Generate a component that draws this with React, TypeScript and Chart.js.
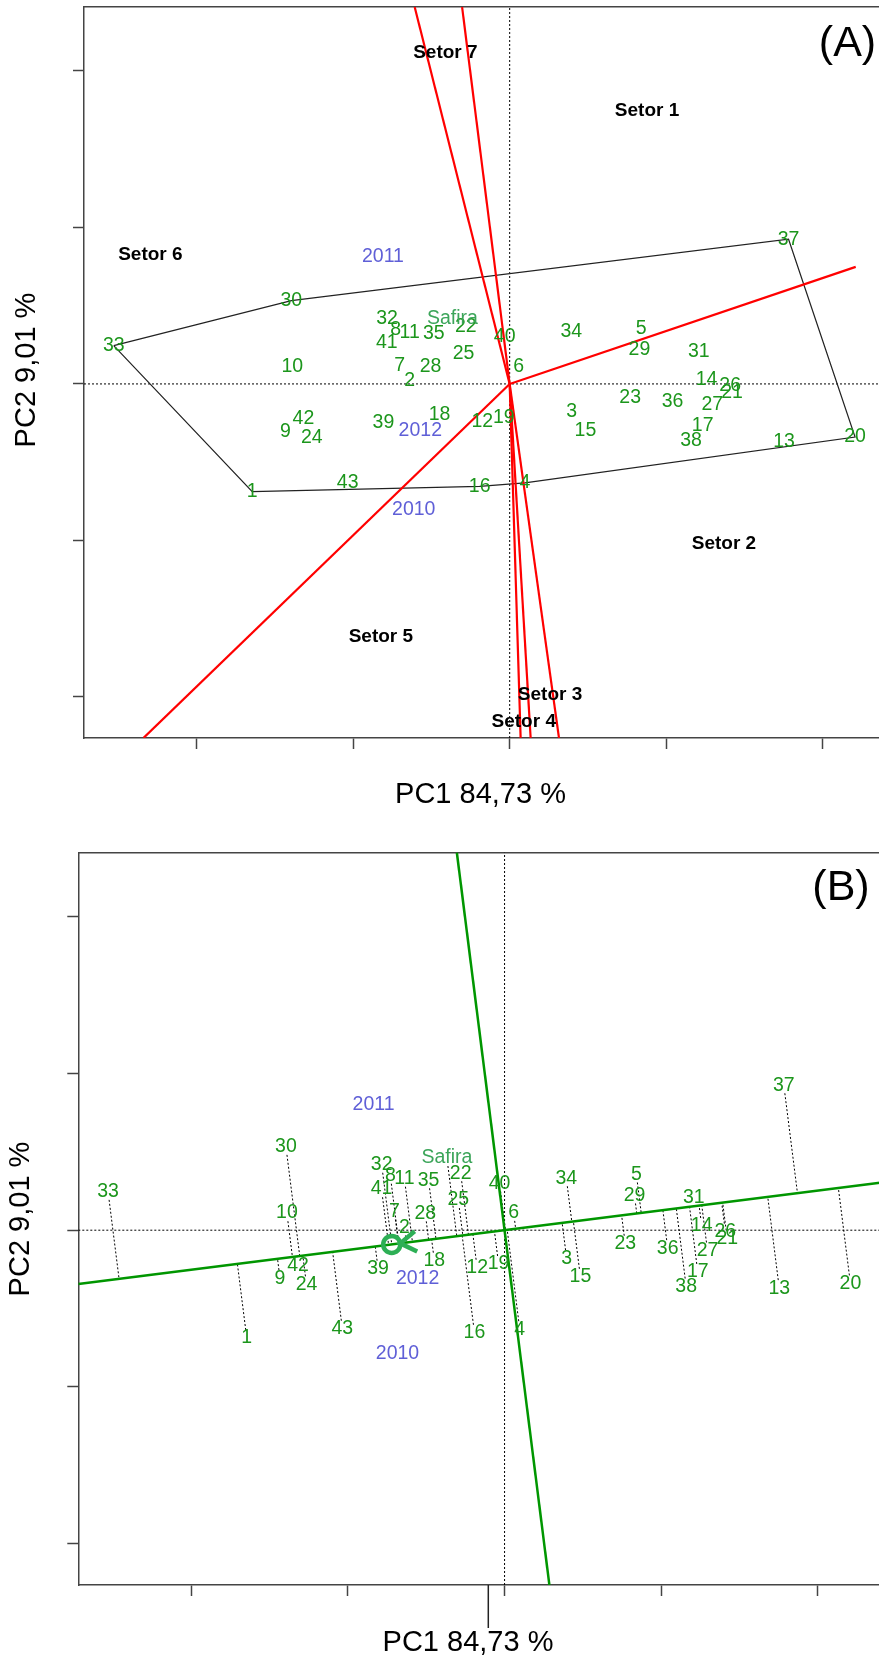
import React, { useEffect, useRef } from 'react';
import { Chart, registerables } from 'chart.js';

Chart.register(...registerables);

// ---------- data ----------
const genotypes = ['1','2','3','4','5','6','7','8','9','10','11','12','13','14','15','16','17','18','19','20','21','22','23','24','25','26','27','28','29','30','31','32','33','34','35','36','37','38','39','40','41','42','43'];
const pc1 = [-1.645,-0.639,0.396,0.097,0.841,0.058,-0.703,-0.729,-1.433,-1.389,-0.639,-0.175,1.753,1.258,0.484,-0.192,1.233,-0.448,-0.038,2.207,1.421,-0.280,0.770,-1.264,-0.295,1.409,1.295,-0.506,0.829,-1.395,1.208,-0.784,-2.530,0.394,-0.485,1.041,1.782,1.159,-0.807,-0.032,-0.785,-1.318,-1.035];
const pc2 = [-0.688,0.018,-0.179,-0.632,0.356,0.111,0.119,0.348,-0.306,0.109,0.329,-0.240,-0.370,0.026,-0.298,-0.655,-0.267,-0.195,-0.216,-0.340,-0.054,0.364,-0.087,-0.346,0.193,-0.010,-0.130,0.108,0.222,0.532,0.207,0.418,0.245,0.332,0.319,-0.115,0.925,-0.360,-0.246,0.300,0.262,-0.224,-0.629];

const checkName = 'Safira';
const checkA = [-0.366, 0.420];
const checkB = [-0.368, 0.461];

const environments = ['2010', '2011', '2012'];
const envPc1A = [-0.613, -0.810, -0.571];
const envPc2A = [-0.805, 0.813, -0.298];
const envPc1B = [-0.683, -0.836, -0.555];
const envPc2B = [-0.787, 0.804, -0.308];

const hullOrder = ['33', '30', '37', '20', '4', '16', '1'];
const rayEndX = [-0.607, -0.304, 2.211, -2.339, 0.070, 0.134, 0.315];
const rayEndY = [2.409, 2.409, 0.748, -2.262, -2.262, -2.262, -2.262];

const sectorNames = ['Setor 1', 'Setor 2', 'Setor 3', 'Setor 4', 'Setor 5', 'Setor 6', 'Setor 7'];
const sectorX = [0.878, 1.369, 0.258, 0.090, -0.823, -2.296, -0.411];
const sectorY = [1.744, -1.024, -1.987, -2.162, -1.619, 0.824, 2.117];

const aec = [-0.72, -0.091];

const tickValues = [-2, -1, 0, 1, 2];
const X_MIN = -2.72, X_MAX = 2.42, Y_MIN = -2.263, Y_MAX = 2.409;

const xTitle = 'PC1 84,73 %';
const yTitle = 'PC2 9,01 %';

// ---------- styles ----------
const FONT = '"Liberation Sans", Arial, sans-serif';
const GREEN_TXT = 'rgb(28,150,28)';
const CHECK_TXT = 'rgb(60,165,90)';
const BLUE_TXT = 'rgb(95,95,215)';
const AXIS_COL = '#444';

type Item = { text: string; x: number; y: number; color: string; font: string; data: boolean; rotate?: boolean };

function lineDs(pts: { x: number; y: number }[], color: string, width: number, dash: number[], order: number) {
  return {
    type: 'scatter' as const,
    data: pts,
    showLine: true,
    borderColor: color,
    backgroundColor: color,
    borderWidth: width,
    borderDash: dash,
    pointRadius: 0,
    pointHoverRadius: 0,
    fill: false,
    tension: 0,
    order,
  };
}

function scalesCfg() {
  const common = {
    type: 'linear' as const,
    ticks: { display: false },
    afterBuildTicks: (s: any) => { s.ticks = tickValues.map((v) => ({ value: v })); },
  };
  return {
    x: {
      ...common, position: 'bottom' as const, min: X_MIN, max: X_MAX,
      grid: { drawOnChartArea: false, drawTicks: true, tickLength: 11, color: AXIS_COL, tickColor: AXIS_COL, tickWidth: 1.5 },
      border: { display: true, color: AXIS_COL, width: 1.5 },
    },
    x2: {
      type: 'linear' as const, axis: 'x' as const, position: 'top' as const, min: X_MIN, max: X_MAX,
      ticks: { display: false },
      grid: { drawOnChartArea: false, drawTicks: false },
      border: { display: true, color: AXIS_COL, width: 1.5 },
    },
    y: {
      ...common, position: 'left' as const, min: Y_MIN, max: Y_MAX,
      grid: { drawOnChartArea: false, drawTicks: true, tickLength: 11, color: AXIS_COL, tickColor: AXIS_COL, tickWidth: 1.5 },
      border: { display: true, color: AXIS_COL, width: 1.5 },
    },
  };
}

function textPlugin(items: Item[], extra?: (ctx: CanvasRenderingContext2D) => void) {
  return {
    id: 'biplotText',
    afterDatasetsDraw(chart: any) {
      const ctx: CanvasRenderingContext2D = chart.ctx;
      const xs = chart.scales.x;
      const ys = chart.scales.y;
      for (const it of items) {
        ctx.save();
        ctx.font = it.font;
        ctx.fillStyle = it.color;
        ctx.textAlign = 'center';
        ctx.textBaseline = 'middle';
        const px = it.data ? xs.getPixelForValue(it.x) : it.x;
        const py = it.data ? ys.getPixelForValue(it.y) : it.y;
        ctx.translate(px, py);
        if (it.rotate) ctx.rotate(-Math.PI / 2);
        ctx.fillText(it.text, 0, 0);
        ctx.restore();
      }
      if (extra) { ctx.save(); extra(ctx); ctx.restore(); }
    },
  };
}

function zeroLines() {
  return [
    lineDs([{ x: X_MIN, y: 0 }, { x: X_MAX, y: 0 }], '#000', 1, [2, 2], 20),
    lineDs([{ x: 0, y: Y_MIN }, { x: 0, y: Y_MAX }], '#000', 1, [2, 2], 20),
  ];
}

function genotypeItems(check: number[]): Item[] {
  const f = `19.5px ${FONT}`;
  const items: Item[] = genotypes.map((g, i) => ({ text: g, x: pc1[i], y: pc2[i], color: GREEN_TXT, font: f, data: true }));
  items.push({ text: checkName, x: check[0], y: check[1], color: CHECK_TXT, font: f, data: true });
  return items;
}

function envItems(ex: number[], ey: number[]): Item[] {
  return environments.map((e, i) => ({ text: e, x: ex[i], y: ey[i], color: BLUE_TXT, font: `19.5px ${FONT}`, data: true }));
}

function buildA(canvas: HTMLCanvasElement) {
  const idx = (n: string) => genotypes.indexOf(n);
  const hull = hullOrder.map((n) => ({ x: pc1[idx(n)], y: pc2[idx(n)] }));
  hull.push(hull[0]);
  const rays = rayEndX.map((x, i) => lineDs([{ x: 0, y: 0 }, { x, y: rayEndY[i] }], 'rgb(255,0,0)', 2.2, [], 1));
  const items: Item[] = [
    ...sectorNames.map((s, i) => ({ text: s, x: sectorX[i], y: sectorY[i], color: '#000', font: `bold 19px ${FONT}`, data: true })),
    ...envItems(envPc1A, envPc2A),
    ...genotypeItems(checkA),
    { text: xTitle, x: 480.5, y: 795, color: '#000', font: `29px ${FONT}`, data: false },
    { text: yTitle, x: 26.5, y: 370, color: '#000', font: `29px ${FONT}`, data: false, rotate: true },
    { text: '(A)', x: 847.5, y: 44, color: '#000', font: `43px ${FONT}`, data: false },
  ];
  return new Chart(canvas, {
    type: 'scatter',
    data: {
      datasets: [
        ...zeroLines(),
        lineDs(hull, '#222', 1.2, [], 5),
        ...rays,
        { type: 'scatter', data: pc1.map((x, i) => ({ x, y: pc2[i] })), pointRadius: 0, pointHoverRadius: 0, order: 0 },
      ] as any,
    },
    options: {
      animation: false,
      responsive: false,
      maintainAspectRatio: false,
      events: [],
      layout: { padding: { left: 73, top: 7, right: 900 - 888.4, bottom: 830 - 738 - 11 } },
      plugins: { legend: { display: false }, tooltip: { enabled: false } },
      scales: scalesCfg() as any,
    },
    plugins: [textPlugin(items)],
  });
}

function buildB(canvas: HTMLCanvasElement) {
  const k = aec[1] / aec[0];
  const norm = Math.sqrt(1 + k * k);
  const ux = 1 / norm, uy = k / norm;
  const atc = lineDs([{ x: X_MIN, y: k * X_MIN }, { x: X_MAX, y: k * X_MAX }], 'rgb(0,150,0)', 2.5, [], 3);
  const ord = lineDs([{ x: -k * Y_MAX, y: Y_MAX }, { x: -k * Y_MIN, y: Y_MIN }], 'rgb(0,150,0)', 2.5, [], 3);
  const allX = [...pc1, checkB[0]];
  const allY = [...pc2, checkB[1]];
  const gap = 0.052;
  const projections: any[] = [];
  allX.forEach((x, i) => {
    const y = allY[i];
    const t = x * ux + y * uy;
    const qx = t * ux, qy = t * uy;
    const dx = qx - x, dy = qy - y;
    const len = Math.sqrt(dx * dx + dy * dy);
    if (len <= gap) return;
    const sx = x + (dx * gap) / len, sy = y + (dy * gap) / len;
    projections.push(lineDs([{ x: sx, y: sy }, { x: qx, y: qy }], '#000', 1, [2, 2], 10));
  });
  // AEC circle and arrow head
  const r = 0.055, L = 0.12, ang = (33 * Math.PI) / 180;
  const apex = { x: aec[0] + r * ux, y: aec[1] + r * uy };
  const rot = (a: number) => ({ x: apex.x + L * (ux * Math.cos(a) - uy * Math.sin(a)), y: apex.y + L * (ux * Math.sin(a) + uy * Math.cos(a)) });
  const head = lineDs([rot(ang), apex, rot(-ang)], 'rgb(45,175,85)', 4.5, [], 2);
  const circle = {
    type: 'scatter', data: [{ x: aec[0], y: aec[1] }], pointRadius: 8.5, pointHoverRadius: 8.5,
    pointBorderWidth: 4.5, pointBorderColor: 'rgb(45,175,85)', pointBackgroundColor: 'rgba(0,0,0,0)', order: 2,
  };
  const items: Item[] = [
    ...envItems(envPc1B, envPc2B),
    ...genotypeItems(checkB),
    { text: xTitle, x: 468, y: 812.5, color: '#000', font: `29px ${FONT}`, data: false },
    { text: yTitle, x: 20.5, y: 389, color: '#000', font: `29px ${FONT}`, data: false, rotate: true },
    { text: '(B)', x: 841, y: 58.5, color: '#000', font: `43px ${FONT}`, data: false },
  ];
  const extra = (ctx: CanvasRenderingContext2D) => {
    ctx.strokeStyle = '#222';
    ctx.lineWidth = 1.5;
    ctx.beginPath();
    ctx.moveTo(488.3, 755);
    ctx.lineTo(488.3, 798);
    ctx.stroke();
  };
  return new Chart(canvas, {
    type: 'scatter',
    data: {
      datasets: [
        ...zeroLines(),
        ...projections,
        atc,
        ord,
        head,
        circle,
        { type: 'scatter', data: pc1.map((x, i) => ({ x, y: pc2[i] })), pointRadius: 0, pointHoverRadius: 0, order: 0 },
      ] as any,
    },
    options: {
      animation: false,
      responsive: false,
      maintainAspectRatio: false,
      events: [],
      layout: { padding: { left: 67.3, top: 22.5, right: 900 - 883.8, bottom: 829 - 755 - 11 } },
      plugins: { legend: { display: false }, tooltip: { enabled: false } },
      scales: scalesCfg() as any,
    },
    plugins: [textPlugin(items, extra)],
  });
}

export default function App() {
  const refA = useRef<HTMLCanvasElement>(null);
  const refB = useRef<HTMLCanvasElement>(null);
  useEffect(() => {
    const a = refA.current ? buildA(refA.current) : null;
    const b = refB.current ? buildB(refB.current) : null;
    return () => {
      a?.destroy();
      b?.destroy();
    };
  }, []);
  return (
    <div style={{ position: 'absolute', left: 0, top: 0, width: 879, height: 1659, overflow: 'hidden', background: '#fff' }}>
      <canvas ref={refA} width={900} height={830} style={{ position: 'absolute', left: 0, top: 0, width: 900, height: 830 }} />
      <canvas ref={refB} width={900} height={829} style={{ position: 'absolute', left: 0, top: 830, width: 900, height: 829 }} />
    </div>
  );
}
